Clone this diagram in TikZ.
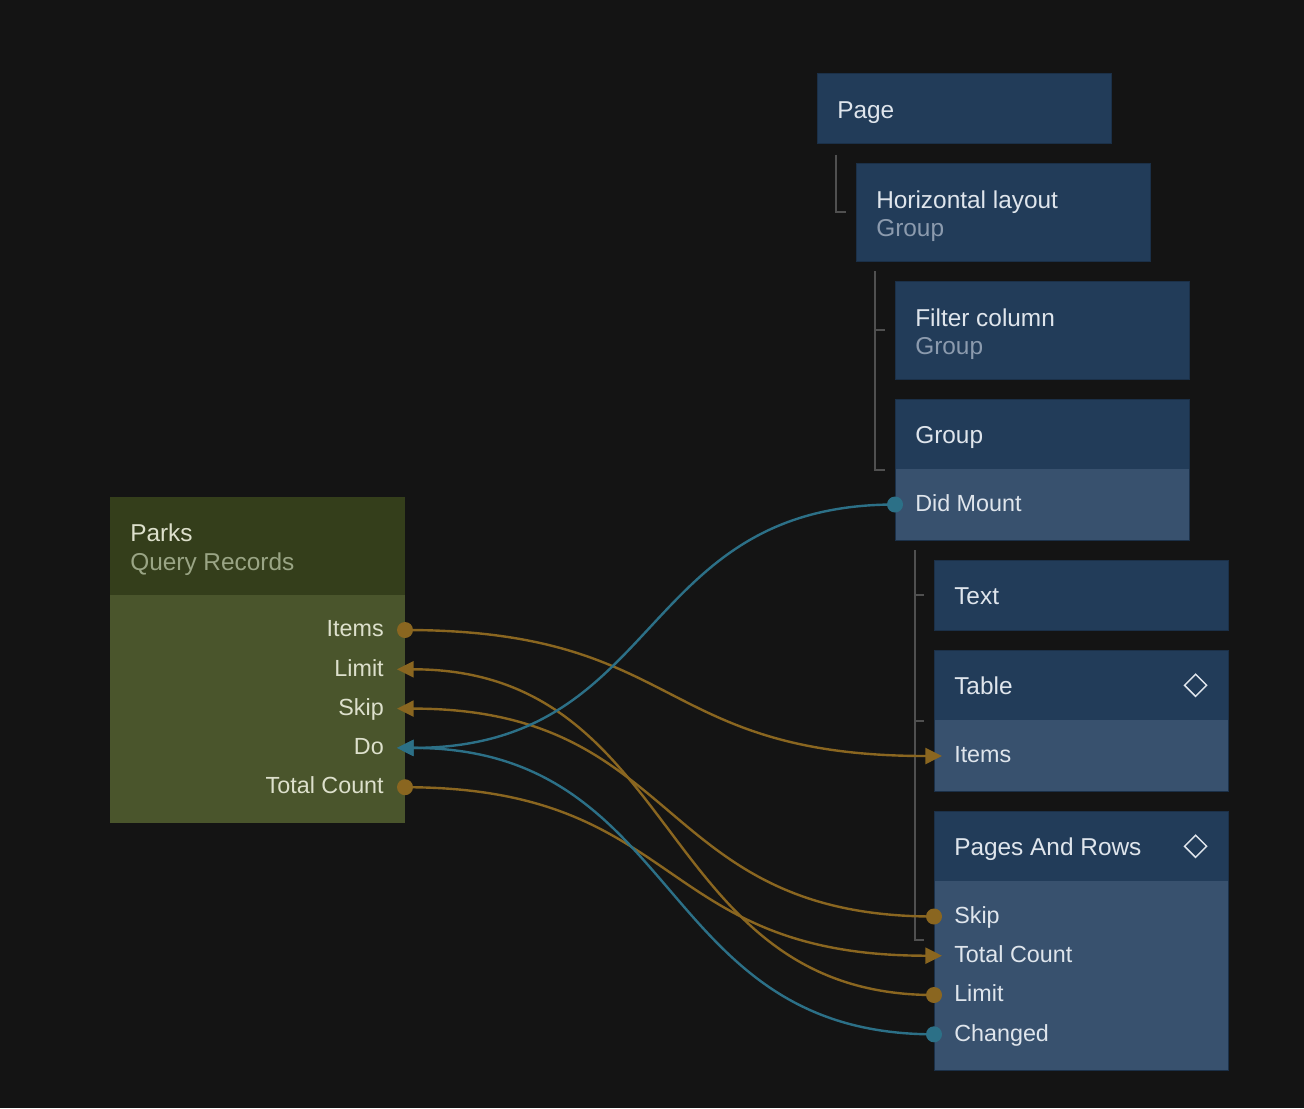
\documentclass[tikz,border=0pt]{standalone}
\usepackage{fontspec}
\setmainfont{Liberation Sans}
\usetikzlibrary{arrows.meta,shapes.geometric}

\definecolor{bgdark}{HTML}{141414}
\definecolor{nodeblue}{HTML}{223C59}
\definecolor{portblue}{HTML}{38516E}
\definecolor{edgeblue}{HTML}{1B3048}
\definecolor{parkhead}{HTML}{343E1B}
\definecolor{parkbody}{HTML}{4A552C}
\definecolor{wireorange}{HTML}{8A6620}
\definecolor{wireteal}{HTML}{2C7087}
\definecolor{treegray}{HTML}{505050}
\definecolor{txtlight}{HTML}{DFE5EC}
\definecolor{txtsub}{HTML}{8C9BAE}
\definecolor{txtgreen}{HTML}{DDE0CC}
\definecolor{txtgreensub}{HTML}{9AA585}

\tikzset{
  nodebox/.style={fill=nodeblue, minimum width=220.5pt, inner sep=0pt, anchor=north west},
  portbox/.style={nodebox, fill=portblue},
  parkbox/.style={nodebox, fill=parkhead, minimum width=221.25pt},
  outline/.style={draw=edgeblue, line width=0.75pt},
  title/.style={anchor=base west, inner sep=0pt, text=txtlight,
    font=\fontsize{18.3}{21}\selectfont},
  subtitle/.style={title, text=txtsub},
  porttext/.style={title, font=\fontsize{17.5}{20}\selectfont},
  icon/.style={diamond, draw=txtlight, line width=1.1pt, inner sep=0pt,
    minimum width=17pt, minimum height=17pt},
  tree/.style={draw=treegray, line width=1.5pt},
  owire/.style={draw=wireorange, line width=1.8pt},
  twire/.style={draw=wireteal, line width=1.8pt},
  inarrow/.style={-{Triangle[length=12.5pt,width=12pt]}, shorten >=-6pt}
}

\begin{document}
\begin{tikzpicture}[x=0.75pt,y=-0.75pt]
  \fill[bgdark] (0,0) rectangle (1304,1108);

  % blue tree on the right
  \node[nodebox, minimum height=52.5pt] (page) at (817,73) {};
  \draw[outline] (page.north west) rectangle (page.south east);
  \node[title] (pageT) at ([shift={(20,45)}]page.north west) {Page};

  \node[nodebox, minimum height=73pt] (hlay) at (856,163.5) {};
  \draw[outline] (hlay.north west) rectangle (hlay.south east);
  \node[title] (hlayT) at ([shift={(20,44.5)}]hlay.north west) {Horizontal layout};
  \node[subtitle] (hlayS) at ([shift={(20,73)}]hlay.north west) {Group};

  \node[nodebox, minimum height=73.5pt] (filt) at (895,281) {};
  \draw[outline] (filt.north west) rectangle (filt.south east);
  \node[title] (filtT) at ([shift={(20,45)}]filt.north west) {Filter column};
  \node[subtitle] (filtS) at ([shift={(20,73)}]filt.north west) {Group};

  \node[nodebox, minimum height=52.5pt] (grp) at (895,399) {};
  \node[portbox, minimum height=53pt] (grpPorts) at ([yshift=0.5pt]grp.south west) {};
  \draw[outline] (grp.north west) rectangle (grpPorts.south east);
  \node[title] (grpT) at ([shift={(20,44)}]grp.north west) {Group};
  \coordinate (grpMount) at (895,504.5);
  \node[porttext] (grpMountL) at ([shift={(20,6.7)}]grpMount) {Did Mount};

  \node[nodebox, minimum height=52.5pt] (txt) at (934,560) {};
  \draw[outline] (txt.north west) rectangle (txt.south east);
  \node[title] (txtT) at ([shift={(20,44)}]txt.north west) {Text};

  \node[nodebox, minimum height=52.5pt] (tbl) at (934,650) {};
  \node[portbox, minimum height=53pt] (tblPorts) at ([yshift=0.5pt]tbl.south west) {};
  \draw[outline] (tbl.north west) rectangle (tblPorts.south east);
  \node[title] (tblT) at ([shift={(20,44)}]tbl.north west) {Table};
  \node[icon] (tblIcon) at ([shift={(-33,0)}]tbl.east) {};
  \coordinate (tblItems) at (934,756);
  \node[porttext] (tblItemsL) at ([shift={(20,6.7)}]tblItems) {Items};

  \node[nodebox, minimum height=52.5pt] (pages) at (934,811) {};
  \node[portbox, minimum height=141.5pt] (pagesPorts) at ([yshift=0.5pt]pages.south west) {};
  \draw[outline] (pages.north west) rectangle (pagesPorts.south east);
  \node[title] (pagesT) at ([shift={(20,44)}]pages.north west) {Pages And Rows};
  \node[icon] (pagesIcon) at ([shift={(-33,0)}]pages.east) {};
  \coordinate (pgSkip) at (934,916.5);
  \coordinate (pgTC) at (934,955.7);
  \coordinate (pgLimit) at (934,995);
  \coordinate (pgChanged) at (934,1034.3);
  \node[porttext] (pgSkipL) at ([shift={(20,6.7)}]pgSkip) {Skip};
  \node[porttext] (pgTCL) at ([shift={(20,6.7)}]pgTC) {Total Count};
  \node[porttext] (pgLimitL) at ([shift={(20,6.7)}]pgLimit) {Limit};
  \node[porttext] (pgChangedL) at ([shift={(20,6.7)}]pgChanged) {Changed};

  % hierarchy lines
  \draw[tree] ([shift={(19,11)}]page.south west) |- ([xshift=-7.5pt]hlay.west);
  \draw[tree] ([shift={(19,10)}]hlay.south west) |- ([xshift=-7.5pt]grp.south west);
  \draw[tree] ([xshift=-15pt]filt.west) -- ([xshift=-7.5pt]filt.west);
  \draw[tree] ([shift={(20,10)}]grpPorts.south west) |- ([shift={(-10,129)}]pages.north west);
  \draw[tree] ([xshift=-15pt]txt.west) -- ([xshift=-7.5pt]txt.west);
  \draw[tree] ([xshift=-15pt]tbl.south west) -- ([xshift=-7.5pt]tbl.south west);

  % query node on the left
  \node[parkbox, minimum height=73.5pt] (parks) at (110,497) {};
  \node[parkbox, fill=parkbody, minimum height=171pt] (parksBody) at ([yshift=0.75pt]parks.south west) {};
  \node[title, text=txtgreen] (parksT) at ([shift={(20,44)}]parks.north west) {Parks};
  \node[subtitle, text=txtgreensub] (parksS) at ([shift={(20,73)}]parks.north west) {Query Records};
  \coordinate (pkItems) at (405,630);
  \coordinate (pkLimit) at (405,669.3);
  \coordinate (pkSkip) at (405,708.6);
  \coordinate (pkDo) at (405,747.9);
  \coordinate (pkTC) at (405,787.2);
  \node[porttext, text=txtgreen, anchor=base east] (pkItemsL) at ([shift={(-21,6.7)}]pkItems) {Items};
  \node[porttext, text=txtgreen, anchor=base east] (pkLimitL) at ([shift={(-21,6.7)}]pkLimit) {Limit};
  \node[porttext, text=txtgreen, anchor=base east] (pkSkipL) at ([shift={(-21,6.7)}]pkSkip) {Skip};
  \node[porttext, text=txtgreen, anchor=base east] (pkDoL) at ([shift={(-21,6.7)}]pkDo) {Do};
  \node[porttext, text=txtgreen, anchor=base east] (pkTCL) at ([shift={(-21,6.7)}]pkTC) {Total Count};

  % wires
  \draw[owire, inarrow] (pkItems) .. controls +(280,0) and +(-280,0) .. (tblItems);
  \draw[owire, inarrow] (pgLimit) .. controls +(-280,0) and +(280,0) .. (pkLimit);
  \draw[owire, inarrow] (pgSkip) .. controls +(-280,0) and +(280,0) .. (pkSkip);
  \draw[owire, inarrow] (pkTC) .. controls +(280,0) and +(-280,0) .. (pgTC);
  \draw[twire, inarrow] (grpMount) .. controls +(-260,0) and +(260,0) .. (pkDo);
  \draw[twire, inarrow] (pgChanged) .. controls +(-280,0) and +(280,0) .. (pkDo);

  % port dots
  \fill[wireorange] (pkItems) circle (6pt);
  \fill[wireorange] (pkTC) circle (6pt);
  \fill[wireorange] (pgSkip) circle (6pt);
  \fill[wireorange] (pgLimit) circle (6pt);
  \fill[wireteal] (pgChanged) circle (6pt);
  \fill[wireteal] (grpMount) circle (6pt);
\end{tikzpicture}
\end{document}
